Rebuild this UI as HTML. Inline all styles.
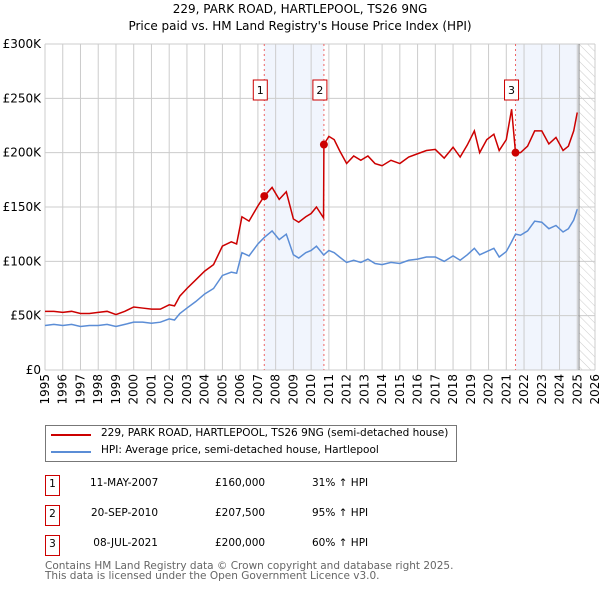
<!DOCTYPE html>
<html><head><meta charset="utf-8"><style>
body{margin:0;background:#fff;font-family:"DejaVu Sans","Liberation Sans",sans-serif;}
#wrap{position:relative;width:600px;height:590px;overflow:hidden}
.t{position:absolute;font-size:10.5px;color:#000;white-space:nowrap}
</style></head><body><div id="wrap">
<div class="t" style="left:0;width:600px;text-align:center;top:2px;font-size:12px">229, PARK ROAD, HARTLEPOOL, TS26 9NG</div>
<div class="t" style="left:0;width:600px;text-align:center;top:19px;font-size:12px">Price paid vs. HM Land Registry's House Price Index (HPI)</div>
<svg id="svg" width="600" height="420" style="position:absolute;left:0;top:0"></svg>
<div style="position:absolute;left:45px;top:425px;width:410px;height:35px;border:1px solid #777">
<div style="position:absolute;left:5px;top:8px;width:40px;border-top:2px solid #cc0000"></div><div class="t" style="left:55px;top:1px">229, PARK ROAD, HARTLEPOOL, TS26 9NG (semi-detached house)</div>
<div style="position:absolute;left:5px;top:25px;width:40px;border-top:2px solid #5b8dd6"></div><div class="t" style="left:55px;top:18px">HPI: Average price, semi-detached house, Hartlepool</div>
</div>
<div id="rows"></div>
<div class="t" style="left:45px;top:561px;line-height:10px;color:#666">Contains HM Land Registry data © Crown copyright and database right 2025.<br>This data is licensed under the Open Government Licence v3.0.</div>
</div>
<script>
const dates=[1995,1995.5,1996,1996.5,1997,1997.5,1998,1998.5,1999,1999.5,2000,2000.5,2001,2001.5,2002,2002.3,2002.6,2003,2003.5,2004,2004.5,2005,2005.5,2005.8,2006.1,2006.5,2007,2007.36,2007.8,2008.2,2008.6,2009,2009.3,2009.7,2010,2010.3,2010.7,2010.72,2011,2011.3,2011.6,2012,2012.4,2012.8,2013.2,2013.6,2014,2014.5,2015,2015.5,2016,2016.5,2017,2017.5,2018,2018.4,2018.8,2019.2,2019.5,2019.9,2020.3,2020.6,2021,2021.3,2021.52,2021.8,2022.2,2022.6,2023,2023.4,2023.8,2024.2,2024.5,2024.8,2025];
const hpi=[41,42,41,42,40,41,41,42,40,42,44,44,43,44,47,46,52,57,63,70,75,87,90,89,108,105,116,122,128,120,125,106,103,108,110,114,106,106,110,108,104,99,101,99,102,98,97,99,98,101,102,104,104,100,105,101,106,112,106,109,112,104,109,118,125,124,128,137,136,130,133,127,130,138,148];
const price=[54,54,53,54,52,52,53,54,51,54,58,57,56,56,60,59,68,75,83,91,97,114,118,116,141,137,151,160,168,157,164,139,136,141,144,150,140,207.5,215,212,202,190,197,193,197,190,188,193,190,196,199,202,203,195,205,196,207,220,200,212,217,202,212,240,200,200,206,220,220,208,214,202,206,220,237];
const sales=[{n:"1",d:2007.36,v:160,date:"11-MAY-2007",p:"£160,000",h:"31% ↑ HPI"},{n:"2",d:2010.72,v:207.5,date:"20-SEP-2010",p:"£207,500",h:"95% ↑ HPI"},{n:"3",d:2021.52,v:200,date:"08-JUL-2021",p:"£200,000",h:"60% ↑ HPI"}];
const yTicks=[0,50,100,150,200,250,300];
const yLabels=["£0","£50K","£100K","£150K","£200K","£250K","£300K"];
const L=45,R=595,T=44,B=370;
const X=d=>L+(d-1995)*(R-L)/31, Y=v=>B-v*(B-T)/300;
const s=document.getElementById('svg');const NS="http://www.w3.org/2000/svg";
function add(tag,a,name){const e=document.createElementNS(NS,tag);for(const k in a)e.setAttribute(k,a[k]);


s.appendChild(e);return e;}
s.innerHTML='<defs><pattern id="hatch" width="6" height="6" patternUnits="userSpaceOnUse" patternTransform="rotate(-45)"><line x1="0" y1="0" x2="0" y2="6" stroke="#ccc" stroke-width="1"/></pattern></defs>';
const F="DejaVu Sans, sans-serif";
add('rect',{x:X(sales[0].d),y:T,width:X(sales[1].d)-X(sales[0].d),height:B-T,fill:"#f1f5fd"},'shade-1-2');
add('rect',{x:X(sales[2].d),y:T,width:X(2025.1)-X(sales[2].d),height:B-T,fill:"#f1f5fd"},'shade-3');
add('rect',{x:X(2025.1),y:T,width:R-X(2025.1),height:B-T,fill:"url(#hatch)"},'future-hatch');
for(let yr=1995;yr<=2026;yr++){add('line',{x1:X(yr),x2:X(yr),y1:T,y2:B,stroke:"#ccc"},'x-grid');
const t=add('text',{x:0,y:0,transform:`translate(${X(yr)+4},${B+4}) rotate(-90)`,"text-anchor":"end","font-size":12,"font-family":F},'x-tick-label');t.textContent=yr;}
yTicks.forEach((v,i)=>{add('line',{x1:L,x2:R,y1:Y(v),y2:Y(v),stroke:"#ccc"},'y-grid');
const t=add('text',{x:L-4,y:Y(v)+4,"text-anchor":"end","font-size":12,"font-family":F},'y-tick-label');t.textContent=yLabels[i];});
add('line',{x1:X(2025.1),x2:X(2025.1),y1:T,y2:B,stroke:"#888"},'data-end-line');
sales.forEach(o=>{add('line',{x1:X(o.d),x2:X(o.d),y1:T,y2:B,stroke:"#e66","stroke-dasharray":"2,3"},'sale-line');});
add('polyline',{points:dates.map((d,i)=>X(d)+','+Y(hpi[i])).join(' '),fill:"none",stroke:"#5b8dd6","stroke-width":1.5},'hpi-line');
add('polyline',{points:dates.map((d,i)=>X(d)+','+Y(price[i])).join(' '),fill:"none",stroke:"#cc0000","stroke-width":1.5},'price-line');
sales.forEach(o=>{add('circle',{cx:X(o.d),cy:Y(o.v),r:4,fill:"#cc0000"},'sale-marker');
const bx=X(o.d)-11;
add('rect',{x:bx,y:80,width:14,height:20,fill:"#fff",stroke:"#cc0000"},'sale-label-box');
const t=add('text',{x:bx+7,y:94,"text-anchor":"middle","font-size":11,"font-family":F},'sale-label');t.textContent=o.n;});
const rows=document.getElementById('rows');
sales.forEach((o,i)=>{const y=475+i*30;const d=document.createElement('div');


d.innerHTML=`<div style="position:absolute;left:45px;top:${y}px;width:13px;height:19px;border:1px solid #cc0000;font-size:10.5px;text-align:center;line-height:17px">${o.n}</div><div class="t" style="left:90px;top:${y+2}px;width:68px;text-align:right">${o.date}</div><div class="t" style="left:215px;top:${y+2}px">${o.p}</div><div class="t" style="left:312px;top:${y+2}px">${o.h}</div>`;
rows.appendChild(d);});
</script></body></html>
